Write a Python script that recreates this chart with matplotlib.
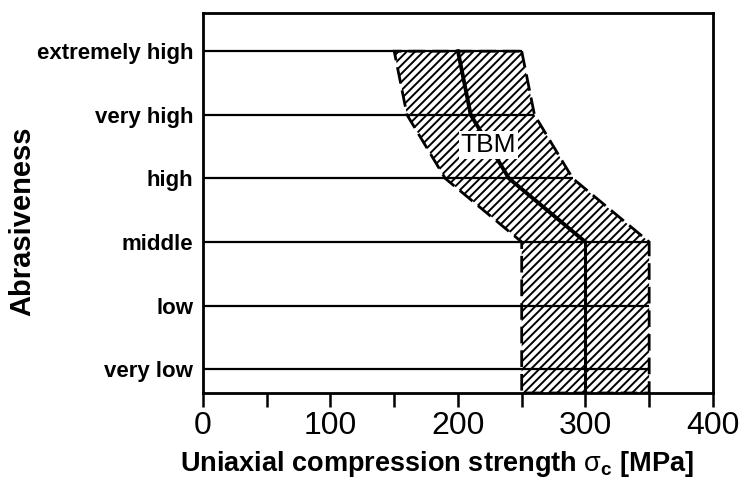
import numpy as np
import matplotlib.pyplot as plt
from matplotlib.patches import Polygon

plt.rcParams['font.family'] = ['Liberation Sans', 'DejaVu Sans']
plt.rcParams['mathtext.fontset'] = 'custom'
plt.rcParams['mathtext.rm'] = 'Liberation Sans'
plt.rcParams['mathtext.it'] = 'Liberation Sans'
plt.rcParams['mathtext.bf'] = 'Liberation Sans:bold'
plt.rcParams['hatch.linewidth'] = 1.4

# --- data ---
LEVELS = ["very low", "low", "middle", "high", "very high", "extremely high"]
LOWER_BOUND = [250, 250, 250, 190, 160, 150]   # MPa, left edge of TBM band per level
UPPER_BOUND = [350, 350, 350, 290, 260, 250]   # MPa, right edge of TBM band per level
TBM_CENTER = [300, 300, 300, 240, 210, 200]    # MPa, centre line
X_TICKS = [0, 100, 200, 300, 400]
X_MINOR = [50, 150, 250, 350]

Y_MIN, Y_MAX = -0.375, 5.6

fig = plt.figure(figsize=(7.39, 4.84), dpi=100)
ax = fig.add_axes([0.2747, 0.188, 0.69, 0.785])

pos = np.arange(len(LEVELS))

# band outline: upper edge going down, lower edge going up
xs = list(UPPER_BOUND[::-1]) + [UPPER_BOUND[0], LOWER_BOUND[0]] + list(LOWER_BOUND)
ys = list(pos[::-1]) + [Y_MIN, Y_MIN] + list(pos)
band = Polygon(np.column_stack([xs, ys]), closed=True, facecolor='white',
               edgecolor='black', hatch='////', lw=2.0, ls=(0, (6, 2.5)), zorder=2)
ax.add_patch(band)

# horizontal level lines
ax.hlines(pos, 0, UPPER_BOUND, colors='black', lw=1.6, zorder=3)

# TBM centre line: slanted upper part, vertical lower part
ax.plot(TBM_CENTER[2:], pos[2:], color='black', lw=2.8, zorder=4)
ax.plot([TBM_CENTER[0]] + TBM_CENTER[:3], [Y_MIN] + list(pos[:3]),
        color='black', lw=2.2, zorder=4)

ax.text(224, 3.52, "TBM", fontsize=19, ha='center', va='center', zorder=5,
        bbox=dict(facecolor='white', edgecolor='none', pad=1.5))

ax.set_xlim(0, 400)
ax.set_ylim(Y_MIN, Y_MAX)

ax.set_xticks(X_TICKS)
ax.set_xticks(X_MINOR, minor=True)
ax.tick_params(axis='x', which='both', direction='out', length=10, width=1.8, pad=3)
ax.set_xticklabels([str(t) for t in X_TICKS], fontsize=23,
                   family=['Liberation Sans Narrow', 'Liberation Sans'])
ax.set_yticks(pos)
ax.set_yticklabels(LEVELS, fontsize=16, fontweight='bold')
ax.tick_params(axis='y', length=0, pad=7)

for s in ax.spines.values():
    s.set_linewidth(2.0)

ax.set_xlabel(r"Uniaxial compression strength $\sigma_\mathregular{c}$ [MPa]",
              fontsize=19.5, fontweight='bold', va='center')
ax.xaxis.set_label_coords(0.459, -0.188)
ax.set_ylabel("Abrasiveness", fontsize=21, fontweight='bold', va='center')
ax.yaxis.set_label_coords(-0.355, 0.453)

fig.savefig("out.png", dpi=100)
